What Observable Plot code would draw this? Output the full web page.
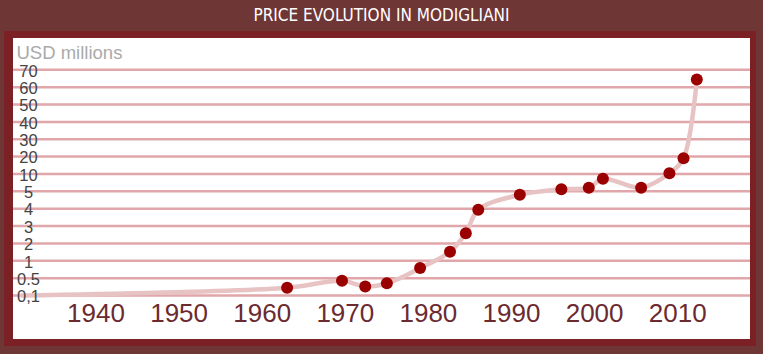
<!DOCTYPE html>
<html><head><meta charset="utf-8">
<script src="https://cdn.jsdelivr.net/npm/d3@7"></script>
<script src="https://cdn.jsdelivr.net/npm/@observablehq/plot@0.6"></script>
<style>
html,body{margin:0;padding:0;background:#6f3636;width:763px;height:354px;overflow:hidden;}
#title{position:absolute;left:0;top:0;width:763px;height:31px;line-height:31px;text-align:center;color:#fff;font-family:"Liberation Sans Narrow","DejaVu Sans Condensed",sans-serif;font-stretch:condensed;font-size:17px;}
#frame{position:absolute;left:4px;top:31px;width:752px;height:315px;background:#7b2024;}
#panel{position:absolute;left:9px;top:7px;width:737px;height:301px;background:#fff;}
#panel svg{display:block;}
</style></head><body>
<div id="title">PRICE EVOLUTION IN MODIGLIANI</div>
<div id="frame"><div id="panel"></div></div>
<script>
const yTickValues = [0.1, 0.5, 1, 2, 3, 4, 5, 10, 20, 30, 40, 50, 60, 70];
const yTickLabels = ["0,1", "0.5", "1", "2", "3", "4", "5", "10", "20", "30", "40", "50", "60", "70"];
const xTickYears = [1940, 1950, 1960, 1970, 1980, 1990, 2000, 2010];
const saleYears = [1963, 1969.6, 1972.4, 1975, 1979, 1982.6, 1984.5, 1986, 1991, 1996, 1999.3, 2001, 2005.6, 2009, 2010.7, 2012.3];
const salePrices = [0.28, 0.44, 0.31, 0.38, 0.79, 1.52, 2.58, 3.94, 4.8, 5.6, 6.05, 8.6, 6.05, 10.4, 19.1, 64.4];
const trendStartYears = [1931];
const trendStartPrices = [0.1];

const sales = saleYears.map((year, i) => ({year, price: salePrices[i]}));
const trend = trendStartYears.map((year, i) => ({year, price: trendStartPrices[i]})).concat(sales);

const W = 737, H = 301, top0 = 31.3, bottom0 = 257;
const step = (bottom0 - top0) / (yTickValues.length - 1);
const yRange = yTickValues.map((_, i) => bottom0 - i * step);

const chart = Plot.plot({
  width: W,
  height: H,
  marginLeft: 0,
  marginRight: 0,
  marginTop: top0,
  marginBottom: H - bottom0,
  style: {fontFamily: "'Liberation Sans', Arial, sans-serif", background: "transparent", overflow: "visible"},
  x: {domain: [1930.07, 2018.76], range: [0, W]},
  y: {type: "linear", domain: yTickValues, range: yRange},
  marks: [
    Plot.ruleY(yTickValues, {stroke: "#e0a6aa", strokeWidth: 2.5}),
    Plot.line(trend, {x: "year", y: "price", stroke: "#e8c3c4", strokeWidth: 4.5, curve: "catmull-rom"}),
    Plot.dot(sales, {x: "year", y: "price", r: 6, fill: "#9b0000", stroke: "none"}),
    Plot.axisY(yTickValues, {tickSize: 0, tickPadding: 0, textAnchor: "middle", dx: 15, dy: 1.5, fontSize: 16.5, fill: "#444", tickFormat: d => yTickLabels[yTickValues.indexOf(d)], label: null}),
    Plot.axisX(xTickYears, {tickSize: 0, tickPadding: 8, fontSize: 26, fill: "#6b2a30", tickFormat: d => String(d), label: null}),
    Plot.text(["USD millions"], {frameAnchor: "top-left", lineAnchor: "bottom", dx: 3, dy: -11.3, fontSize: 18.5, fill: "#aaa", text: d => d})
  ]
});
document.getElementById("panel").appendChild(chart);
</script>
</body></html>
